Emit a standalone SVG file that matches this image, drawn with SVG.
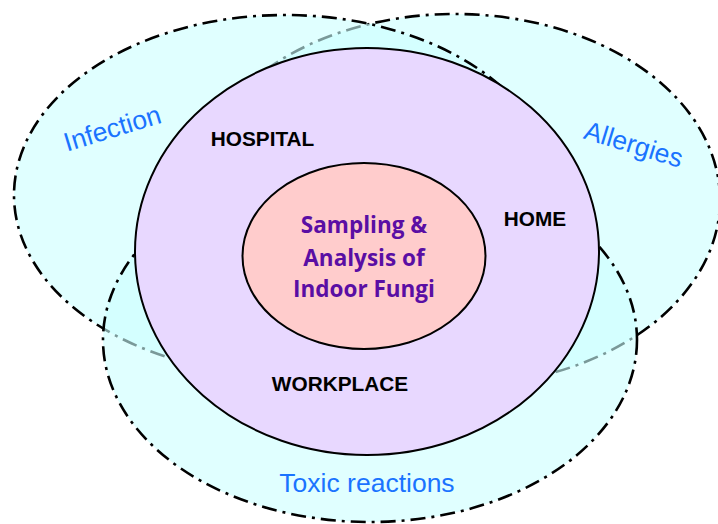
<svg xmlns="http://www.w3.org/2000/svg" width="718" height="524" viewBox="0 0 718 524">
<style>
.zone{fill:#ccffff;fill-opacity:0.6;stroke:#000;stroke-width:2.6;stroke-dasharray:15 6 3 6}
.ring{stroke:#000;stroke-width:2}
.lbl{font-family:"Liberation Sans",Arial,sans-serif;font-size:26.5px;fill:#1a73ff;text-anchor:middle}
.place{font-family:"Liberation Sans",Arial,sans-serif;font-size:20.8px;font-weight:bold;fill:#000;text-anchor:middle}
.core{font-family:"Open Sans","Noto Sans",sans-serif;font-size:22.5px;font-weight:700;fill:#5a0ea4;text-anchor:middle}
</style>
<rect width="718" height="524" fill="#fff"/>
<g id="allergies">
<ellipse class="zone" cx="455" cy="200" rx="265" ry="186"/>
<text class="lbl" x="631" y="153" transform="rotate(17 631 153)">Allergies</text>
</g>
<g id="infection">
<ellipse class="zone" cx="285" cy="195" rx="271" ry="180"/>
<text class="lbl" x="115" y="137" transform="rotate(-17 115 137)">Infection</text>
</g>
<g id="toxic">
<ellipse class="zone" cx="370" cy="340" rx="267" ry="182"/>
<text class="lbl" x="367" y="492">Toxic reactions</text>
</g>
<g id="places">
<ellipse class="ring" cx="367" cy="251.5" rx="232" ry="203.5" fill="#e8d8ff"/>
<text class="place" x="262.5" y="146">HOSPITAL</text>
<text class="place" x="535" y="226">HOME</text>
<text class="place" x="340" y="391">WORKPLACE</text>
</g>
<g id="core">
<ellipse class="ring" cx="364" cy="256" rx="121.5" ry="93" fill="#ffcccc"/>
<text class="core" x="364" y="233">Sampling &amp;</text>
<text class="core" x="364" y="266">Analysis of</text>
<text class="core" x="364" y="297">Indoor Fungi</text>
</g>
<g id="connectors"/>
</svg>
